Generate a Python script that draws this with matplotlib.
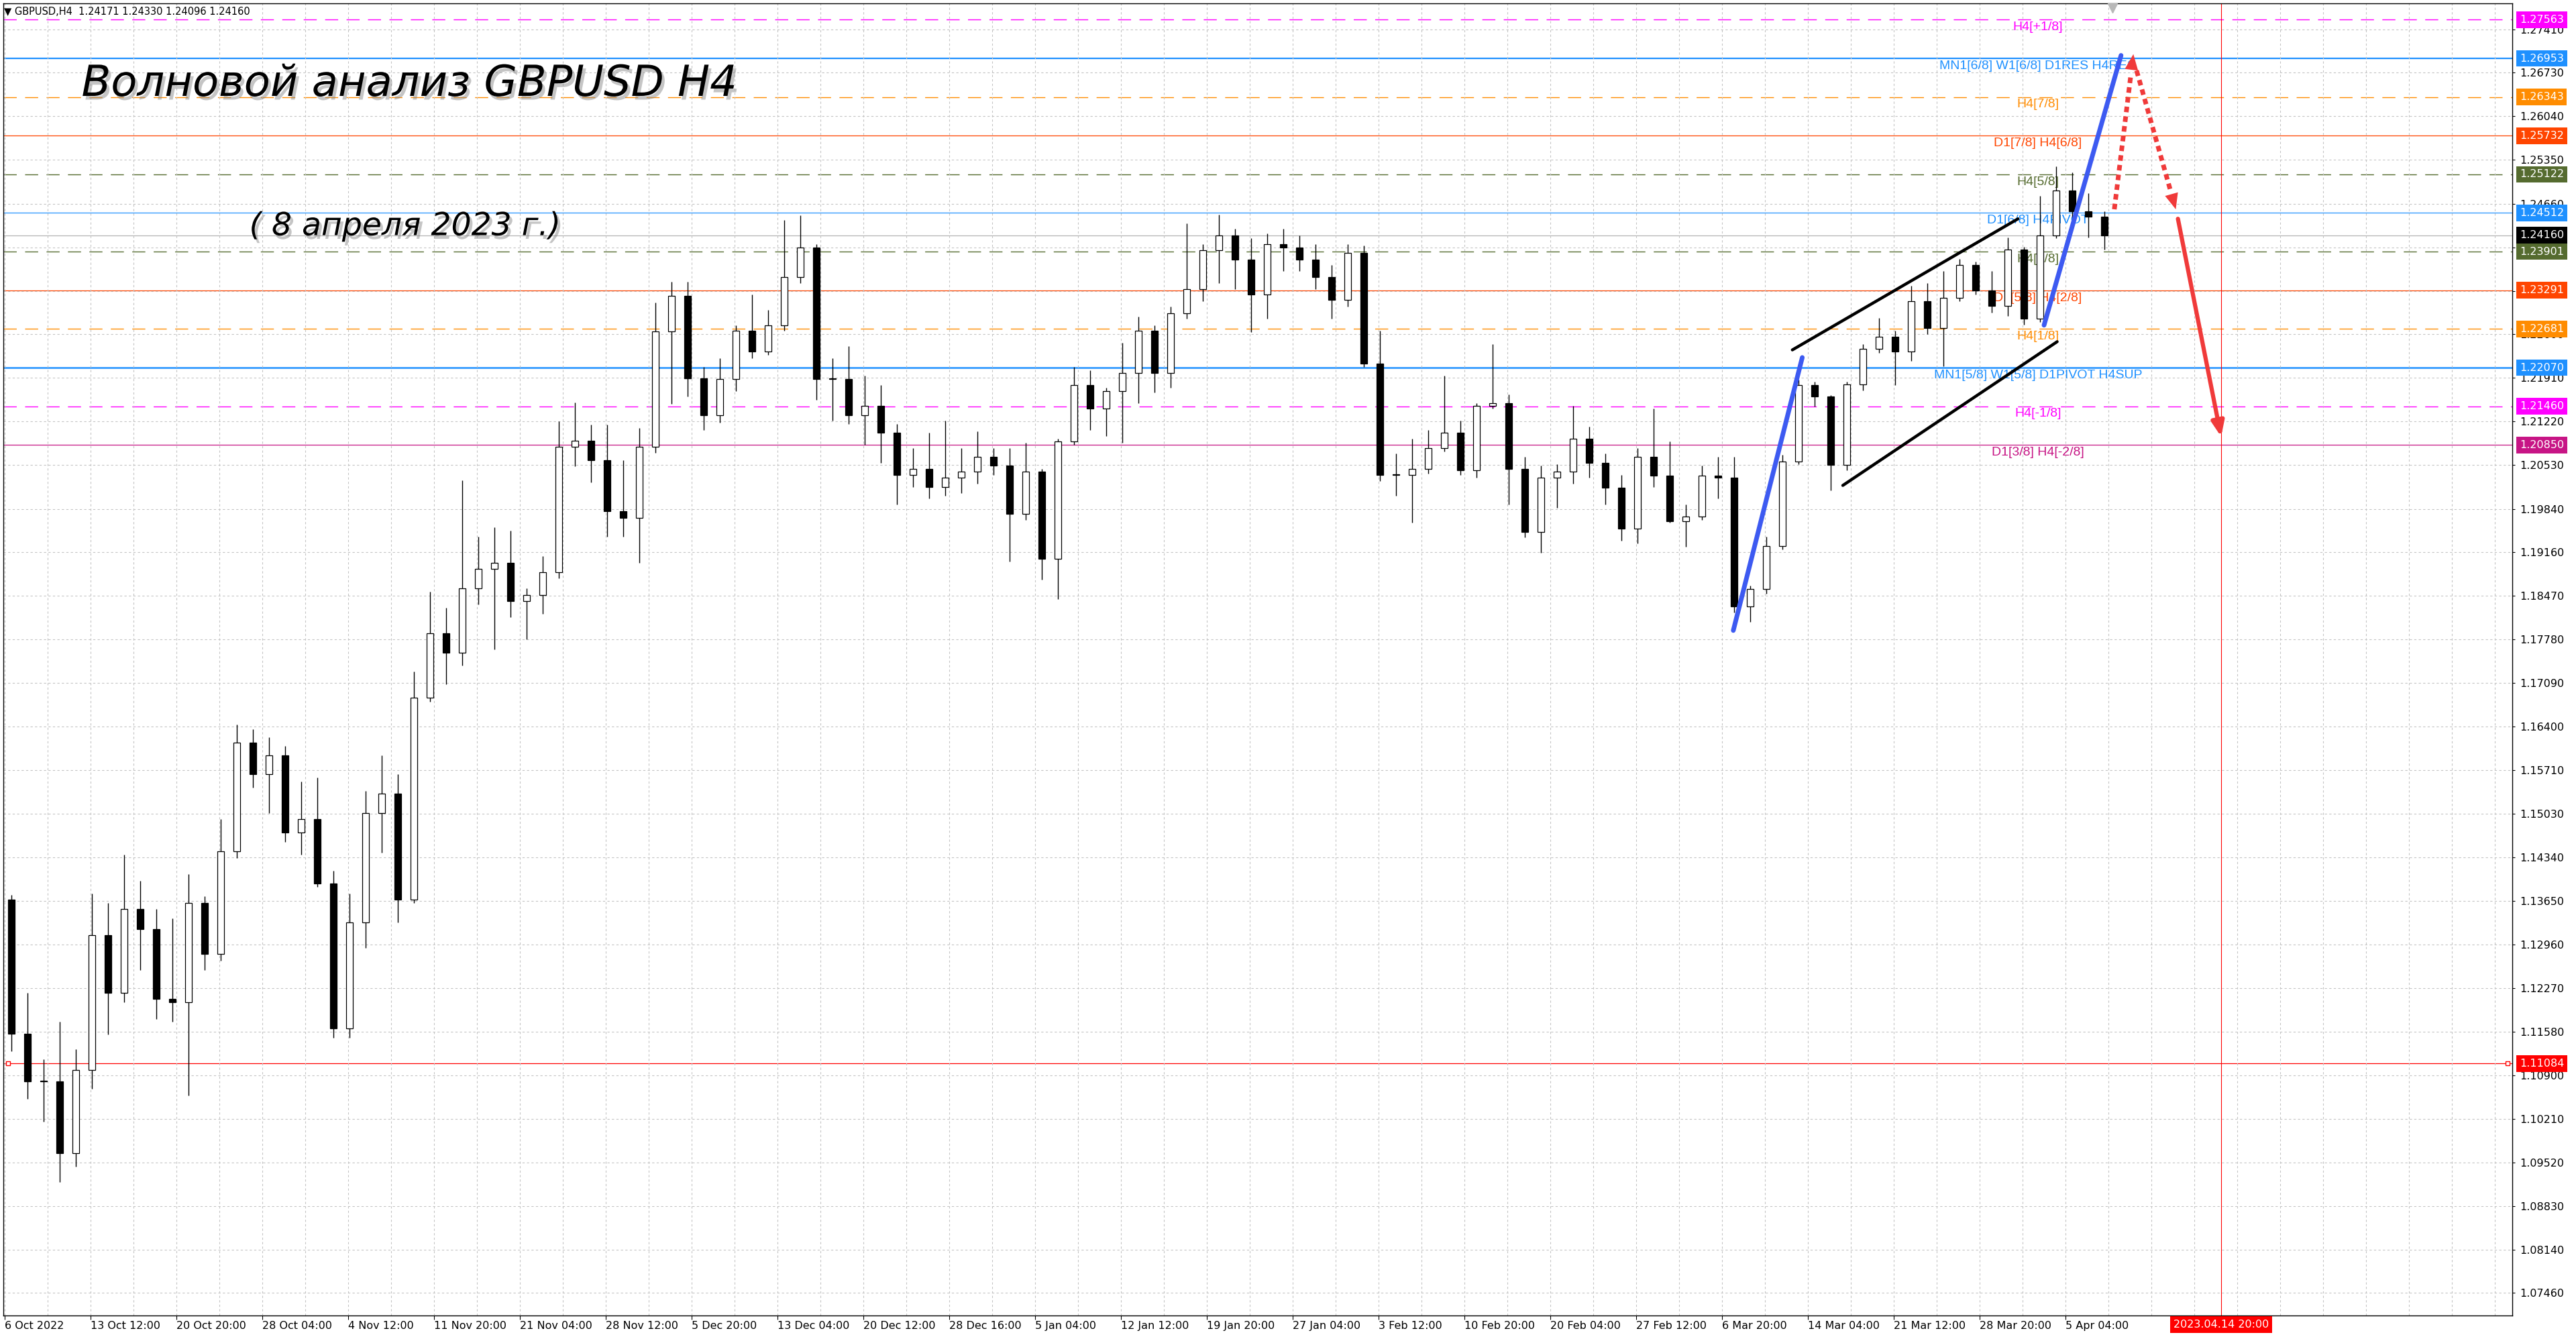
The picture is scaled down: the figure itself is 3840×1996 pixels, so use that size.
import matplotlib
matplotlib.use('Agg')
import matplotlib.pyplot as plt
import matplotlib.patheffects as pe
from matplotlib.ticker import MultipleLocator
from matplotlib.transforms import blended_transform_factory

# GBPUSD H4 chart, 6 Oct 2022 - 7 Apr 2023
# one candle here = one trading day (6 H4 bars)
first_open = 1.1367
highs = [1.1375, 1.1220, 1.1115, 1.1174, 1.1131, 1.1377, 1.1362, 1.1438, 1.1397, 1.1352,
         1.1337, 1.1407, 1.1372, 1.1494, 1.1644, 1.1636, 1.1623, 1.1610, 1.1554, 1.1560,
         1.1413, 1.1377, 1.1539, 1.1595, 1.1565, 1.1727, 1.1853, 1.1828, 1.2029, 1.1940,
         1.1955, 1.1950, 1.1859, 1.1909, 1.2122, 1.2152, 1.2117, 1.2117, 1.2061, 1.2112,
         1.2310, 1.2343, 1.2343, 1.2208, 1.2222, 1.2274, 1.2322, 1.2298, 1.2440, 1.2447,
         1.2402, 1.2222, 1.2241, 1.2194, 1.2180, 1.2118, 1.2080, 1.2104, 1.2123, 1.2080,
         1.2106, 1.2080, 1.2080, 1.2088, 1.2047, 1.2095, 1.2208, 1.2203, 1.2175, 1.2246,
         1.2288, 1.2274, 1.2303, 1.2435, 1.2402, 1.2449, 1.2426, 1.2411, 1.2419, 1.2426,
         1.2416, 1.2402, 1.2369, 1.2402, 1.2400, 1.2265, 1.2071, 1.2095, 1.2109, 1.2194,
         1.2123, 1.2151, 1.2244, 1.2165, 1.2066, 1.2052, 1.2054, 1.2147, 1.2114, 1.2071,
         1.2038, 1.2080, 1.2142, 1.2090, 1.1991, 1.2052, 1.2066, 1.2066, 1.1863, 1.1940,
         1.2069, 1.2188, 1.2185, 1.2164, 1.2185, 1.2244, 1.2285, 1.2265, 1.2336, 1.2341,
         1.2360, 1.2379, 1.2374, 1.2360, 1.2412, 1.2398, 1.2478, 1.2525, 1.2515, 1.2482,
         1.2454]
lows = [1.1128, 1.1053, 1.1017, 1.0921, 1.0946, 1.1068, 1.1154, 1.1205, 1.1256, 1.1179,
        1.1174, 1.1058, 1.1256, 1.1271, 1.1433, 1.1544, 1.1504, 1.1458, 1.1438, 1.1387,
        1.1149, 1.1149, 1.1291, 1.1441, 1.1331, 1.1362, 1.1680, 1.1707, 1.1737, 1.1833,
        1.1762, 1.1813, 1.1778, 1.1818, 1.1874, 1.2051, 1.2026, 1.1940, 1.1940, 1.1899,
        1.2072, 1.2150, 1.2161, 1.2109, 1.2120, 1.2170, 1.2222, 1.2227, 1.2265, 1.2340,
        1.2156, 1.2123, 1.2118, 1.2085, 1.2057, 1.1991, 1.2019, 1.2000, 1.2005, 1.2009,
        1.2024, 1.2038, 1.1901, 1.1967, 1.1872, 1.1842, 1.2085, 1.2109, 1.2099, 1.2088,
        1.2151, 1.2168, 1.2175, 1.2284, 1.2312, 1.2340, 1.2331, 1.2263, 1.2284, 1.2360,
        1.2360, 1.2331, 1.2284, 1.2303, 1.2208, 1.2028, 1.2005, 1.1962, 1.2040, 1.2075,
        1.2038, 1.2033, 1.2142, 1.1991, 1.1939, 1.1915, 1.1986, 1.2024, 1.2033, 1.1991,
        1.1934, 1.1929, 1.2019, 1.1962, 1.1924, 1.1967, 1.2000, 1.1820, 1.1806, 1.1850,
        1.1920, 1.2055, 1.2146, 1.2013, 1.2045, 1.2171, 1.2230, 1.2180, 1.2218, 1.2260,
        1.2209, 1.2312, 1.2322, 1.2294, 1.2289, 1.2275, 1.2279, 1.2411, 1.2426, 1.2412,
        1.2393]
closes = [1.1155, 1.1080, 1.1080, 1.0967, 1.1098, 1.1311, 1.1220, 1.1352, 1.1321, 1.1210,
          1.1205, 1.1362, 1.1281, 1.1443, 1.1615, 1.1565, 1.1595, 1.1473, 1.1494, 1.1392,
          1.1164, 1.1331, 1.1504, 1.1534, 1.1367, 1.1686, 1.1788, 1.1757, 1.1859, 1.1889,
          1.1899, 1.1838, 1.1848, 1.1884, 1.2082, 1.2092, 1.2061, 1.1980, 1.1970, 1.2082,
          1.2264, 1.2320, 1.2190, 1.2132, 1.2189, 1.2265, 1.2232, 1.2274, 1.2350, 1.2397,
          1.2189, 1.2189, 1.2132, 1.2147, 1.2104, 1.2038, 1.2047, 1.2019, 1.2033, 1.2043,
          1.2066, 1.2052, 1.1976, 1.2043, 1.1905, 1.2090, 1.2180, 1.2142, 1.2170, 1.2199,
          1.2265, 1.2199, 1.2293, 1.2331, 1.2392, 1.2416, 1.2378, 1.2322, 1.2402, 1.2397,
          1.2378, 1.2350, 1.2314, 1.2388, 1.2213, 1.2038, 1.2038, 1.2047, 1.2080, 1.2104,
          1.2045, 1.2147, 1.2151, 1.2047, 1.1948, 1.2033, 1.2043, 1.2095, 1.2057, 1.2017,
          1.1953, 1.2066, 1.2036, 1.1965, 1.1972, 1.2036, 1.2033, 1.1830, 1.1858, 1.1925,
          1.2059, 1.2180, 1.2162, 1.2053, 1.2181, 1.2237, 1.2256, 1.2232, 1.2312, 1.2270,
          1.2317, 1.2369, 1.2329, 1.2305, 1.2393, 1.2284, 1.2416, 1.2487, 1.2454, 1.2445,
          1.2416]
opens = [first_open] + closes[:-1]

# time axis (bar numbers, one label every 32 H4 bars)
time_labels = ['6 Oct 2022', '13 Oct 12:00', '20 Oct 20:00', '28 Oct 04:00', '4 Nov 12:00',
               '11 Nov 20:00', '21 Nov 04:00', '28 Nov 12:00', '5 Dec 20:00', '13 Dec 04:00',
               '20 Dec 12:00', '28 Dec 16:00', '5 Jan 04:00', '12 Jan 12:00', '19 Jan 20:00',
               '27 Jan 04:00', '3 Feb 12:00', '10 Feb 20:00', '20 Feb 04:00', '27 Feb 12:00',
               '6 Mar 20:00', '14 Mar 04:00', '21 Mar 12:00', '28 Mar 20:00', '5 Apr 04:00']
price_ticks = [1.27410, 1.26730, 1.26040, 1.25350, 1.24660, 1.23970, 1.23280, 1.22600,
               1.21910, 1.21220, 1.20530, 1.19840, 1.19160, 1.18470, 1.17780, 1.17090,
               1.16400, 1.15710, 1.15030, 1.14340, 1.13650, 1.12960, 1.12270, 1.11580,
               1.10900, 1.10210, 1.09520, 1.08830, 1.08140, 1.07460]

# Murrey / pivot levels drawn on the chart
level_prices = [1.27563, 1.26953, 1.26343, 1.25732, 1.25122, 1.24512,
                1.23901, 1.23291, 1.22681, 1.22070, 1.21460, 1.20850]
level_names = ['H4[+1/8]', 'MN1[6/8] W1[6/8] D1RES H4RES', 'H4[7/8]', 'D1[7/8] H4[6/8]',
               'H4[5/8]', 'D1[6/8] H4PIVOT', 'H4[3/8]', 'D1[5/8] H4[2/8]', 'H4[1/8]',
               'MN1[5/8] W1[5/8] D1PIVOT H4SUP', 'H4[-1/8]', 'D1[3/8] H4[-2/8]']
level_colors = ['#ff00ff', '#1e90ff', '#ff8c00', '#ff4500', '#556b2f', '#1e90ff',
                '#556b2f', '#ff4500', '#ff8c00', '#1e90ff', '#ff00ff', '#c71585']
level_dashed = [True, False, True, False, True, False, True, False, True, False, True, False]
level_width = [1.0, 1.6, 1.0, 0.9, 1.0, 0.9, 1.0, 0.9, 1.0, 1.8, 1.0, 0.9]
last_price = 1.24160
old_level = 1.11084

# hand-drawn wave marks (x in H4 bars)
wave1_x, wave1_y = [644.2, 669.9], [1.1792, 1.2223]
wave2_x, wave2_y = [760.0, 788.7], [1.2274, 1.2700]
chan_top_x, chan_top_y = [666.2, 750.3], [1.2235, 1.2442]
chan_bot_x, chan_bot_y = [685.0, 764.9], [1.2021, 1.2248]
fc_up_x, fc_up_y = [786.2, 793.3], [1.2457, 1.2702]
fc_down_x, fc_down_y = [794.5, 809.1], [1.2676, 1.2457]
fc_drop_x, fc_drop_y = [809.9, 826.0], [1.2442, 1.2098]
vline_bar = 826.0

fig = plt.figure(figsize=(38.4, 19.96), dpi=100)
ax = fig.add_axes([5/3840, 35/1996, 3740/3840, 1956.5/1996])
ax.set_xlim(-0.5, 934.5)
ax.set_ylim(1.07104, 1.27827)

# grid
ax.set_yticks(price_ticks)
ax.set_yticklabels(['%.5f' % v for v in price_ticks])
ax.set_xticks([32 * i for i in range(len(time_labels))])
ax.set_xticklabels(time_labels)
ax.xaxis.set_minor_locator(MultipleLocator(16))
ax.grid(True, which='both', axis='x', color='#c4c4c4', lw=0.8, ls=(0, (3, 3)), zorder=0)
ax.grid(True, which='major', axis='y', color='#c4c4c4', lw=0.8, ls=(0, (3, 3)), zorder=0)
ax.yaxis.tick_right()
ax.tick_params(axis='y', labelsize=11.5, length=3, pad=5, direction='out')
ax.tick_params(axis='x', which='major', labelsize=11.5, length=4, pad=2, direction='out')
ax.tick_params(axis='x', which='minor', length=0)
for t in ax.get_xticklabels():
    t.set_ha('left')
for s in ax.spines.values():
    s.set_color('black')
    s.set_linewidth(1.0)

# level lines and their names
for p, name, c, d, w in zip(level_prices, level_names, level_colors, level_dashed, level_width):
    ax.axhline(p, color=c, lw=w, ls=(0, (14, 9)) if d else '-', zorder=1)
    ax.annotate(name, (757.7, p), xytext=(0, -2), textcoords='offset points',
                ha='center', va='top', color=c, fontsize=14, family='Liberation Sans', zorder=2)
ax.axhline(last_price, color='#b4b4b4', lw=0.9, zorder=1)
ax.axhline(old_level, color='#ff0000', lw=0.9, zorder=1)
ax.plot([0.002, 0.998], [old_level, old_level], ls='none', marker='s', ms=4, mfc='white',
        mec='#ff0000', transform=blended_transform_factory(ax.transAxes, ax.transData),
        clip_on=False, zorder=3)
ax.axvline(vline_bar, color='#ff0000', lw=0.8, zorder=1)

# candles
xs = [6 * i + 2.5 for i in range(len(closes))]
ax.vlines(xs, lows, highs, color='black', lw=1.0, zorder=4)
for x, o, c in zip(xs, opens, closes):
    bull = c >= o
    ax.bar(x, max(abs(c - o), 0.00008), bottom=min(o, c), width=2.6,
           color='white' if bull else 'black', edgecolor='black', linewidth=0.9, zorder=5)

# wave drawings
ax.plot(chan_top_x, chan_top_y, color='black', lw=3.2, solid_capstyle='round', zorder=7)
ax.plot(chan_bot_x, chan_bot_y, color='black', lw=3.2, solid_capstyle='round', zorder=7)
ax.plot(wave1_x, wave1_y, color='#3d5af1', lw=5, solid_capstyle='round', zorder=7)
ax.plot(wave2_x, wave2_y, color='#3d5af1', lw=5, solid_capstyle='round', zorder=7)

red = '#f03a3a'
head = dict(arrowstyle='-|>,head_length=1.3,head_width=0.55', color=red, lw=0,
            mutation_scale=13, shrinkA=0, shrinkB=0)
for fx, fy in [(fc_up_x, fc_up_y), (fc_down_x, fc_down_y)]:
    mx = fx[0] + 0.86 * (fx[1] - fx[0])
    my = fy[0] + 0.86 * (fy[1] - fy[0])
    ax.plot([fx[0], mx], [fy[0], my], color=red, lw=5, ls=(0, (1.2, 0.9)),
            dash_capstyle='butt', zorder=8)
    ax.annotate('', xy=(fx[1], fy[1]), xytext=(mx, my), arrowprops=head, zorder=8)
ax.annotate('', xy=(fc_drop_x[1], fc_drop_y[1]), xytext=(fc_drop_x[0], fc_drop_y[0]),
            arrowprops=dict(arrowstyle='-|>,head_length=1.2,head_width=0.5', color=red,
                            lw=4.5, mutation_scale=11, shrinkA=0, shrinkB=0), zorder=8)

# price boxes on the right axis
ytr = blended_transform_factory(ax.transAxes, ax.transData)
box_prices = level_prices + [last_price, old_level]
box_colors = level_colors + ['black', '#ff0000']
for p, c in zip(box_prices, box_colors):
    ax.text(1.0029, p, '%.5f' % p, transform=ytr, ha='left', va='center', color='white',
            fontsize=11.5, bbox=dict(boxstyle='square,pad=0.3', fc=c, ec='none'),
            clip_on=False, zorder=20)
xtr = blended_transform_factory(ax.transData, ax.transAxes)
ax.text(vline_bar, -0.0068, '2023.04.14 20:00', transform=xtr, ha='center', va='center',
        color='white', fontsize=11.5, bbox=dict(boxstyle='square,pad=0.3', fc='#ff0000', ec='none'),
        clip_on=False, zorder=20)
ax.plot([785.5], [0.996], marker='v', ms=10, color='#b8b8b8', transform=xtr, clip_on=False, zorder=9)

# header and titles
fig.text(6/3840, 1 - 18/1996, '\u25bc GBPUSD,H4  1.24171 1.24330 1.24096 1.24160',
         fontsize=10.5, va='center', ha='left')
shadow = [pe.withSimplePatchShadow(offset=(3, -4), shadow_rgbFace='#808080', alpha=0.45)]
fig.text(610/3840, 1 - 125/1996, 'Волновой анализ GBPUSD H4', ha='center', va='center',
         fontsize=46, style='italic', color='black', path_effects=shadow)
fig.text(604/3840, 1 - 338/1996, '( 8 апреля 2023 г.)', ha='center', va='center',
         fontsize=34, style='italic', color='black', path_effects=shadow)

fig.savefig('out.png', dpi=100, facecolor='white')
